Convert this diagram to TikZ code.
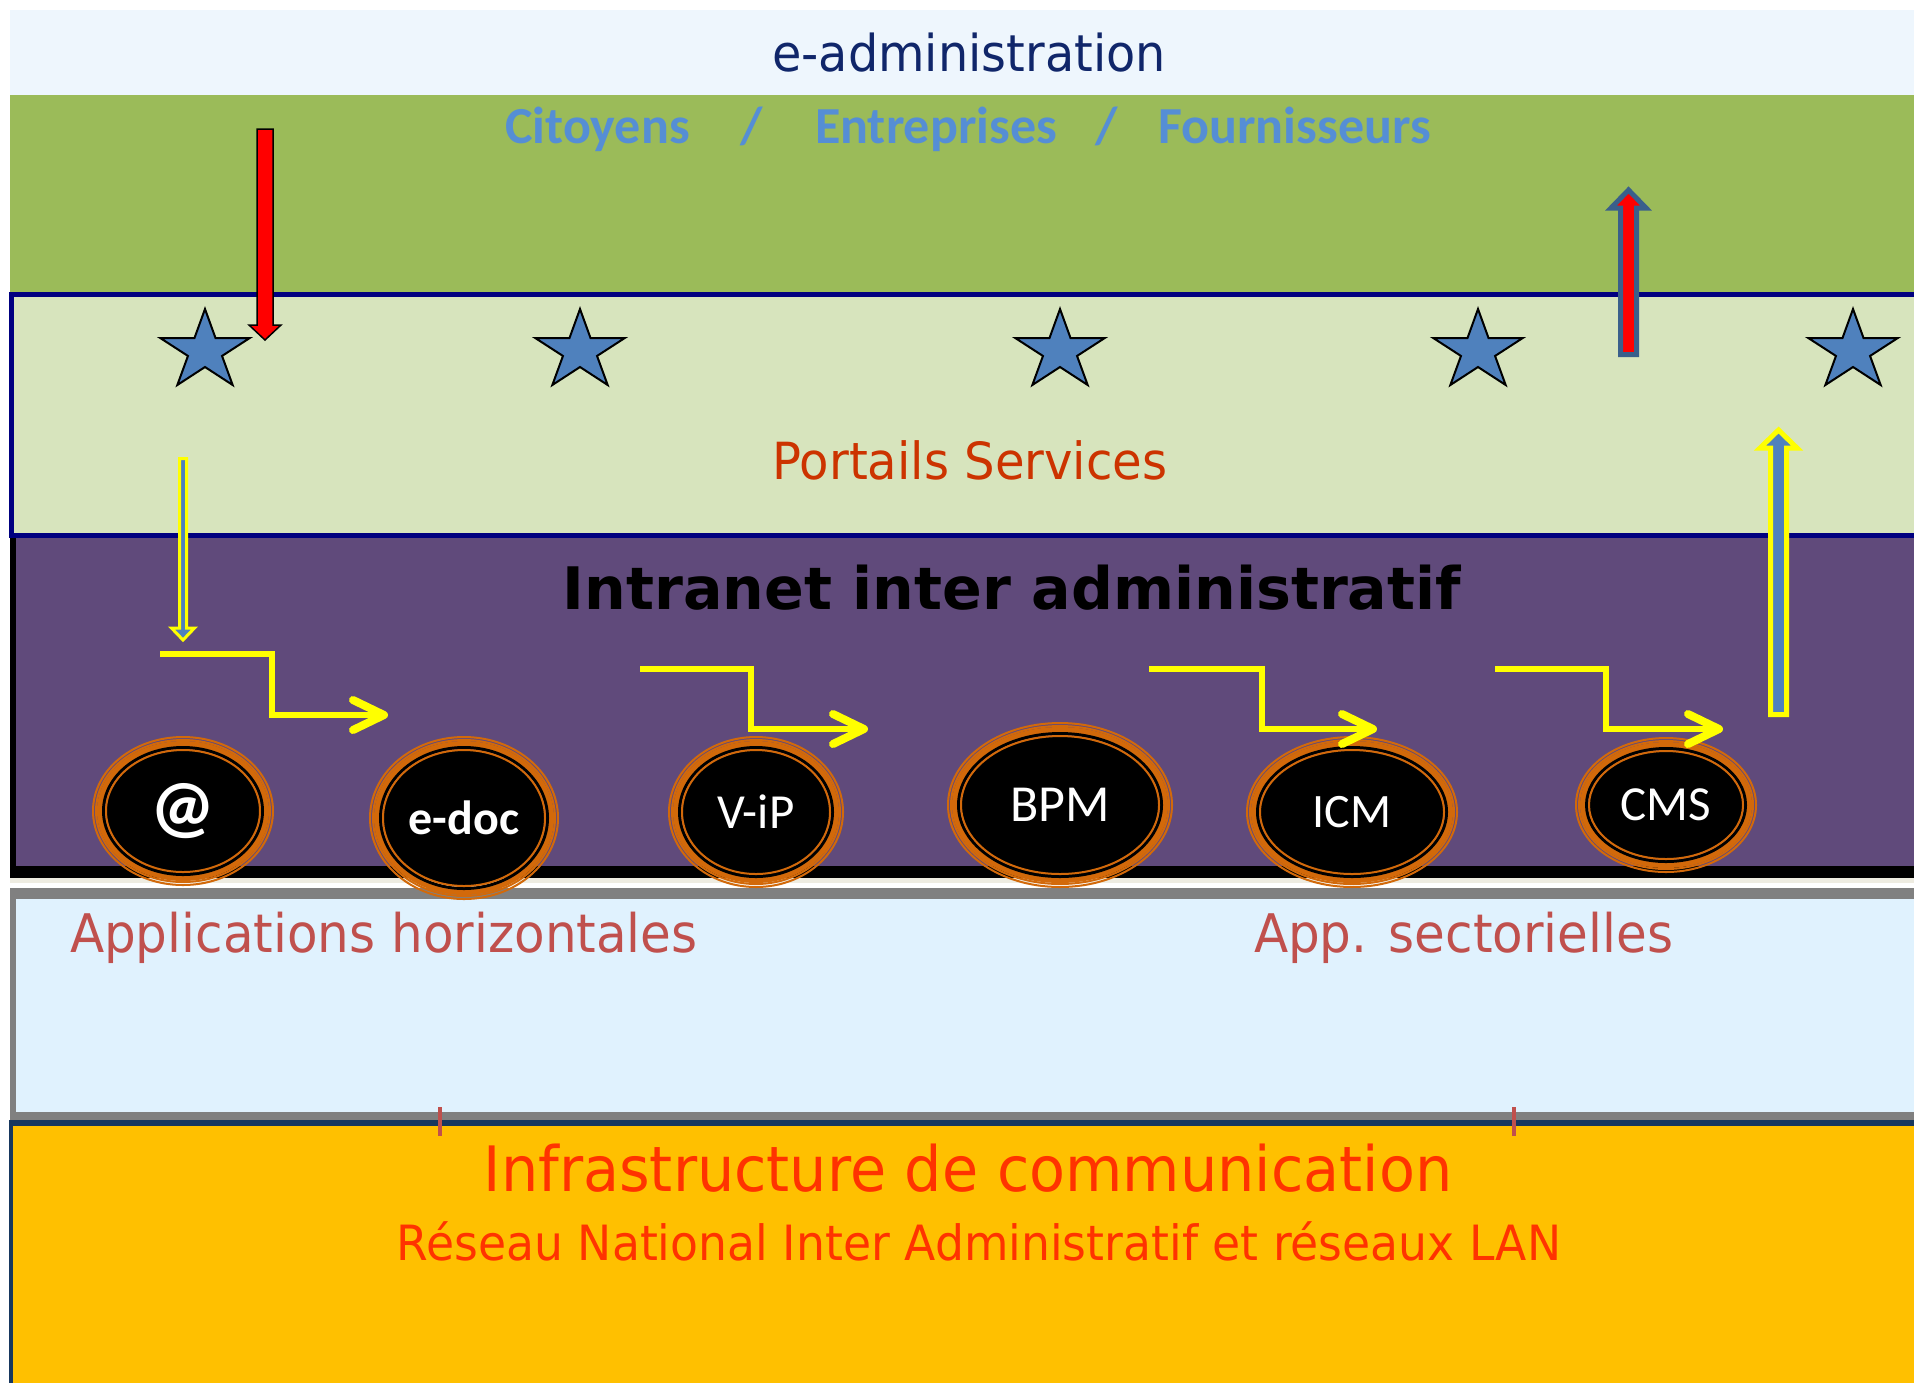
\documentclass[tikz,border=0pt]{standalone}
\usepackage{fontspec}
\newfontfamily\tahf[FakeStretch=0.94]{DejaVu Sans}
\newfontfamily\dvsf{DejaVu Sans}
\newfontfamily\carlf{Carlito}
\usetikzlibrary{shapes.geometric}
\definecolor{topband}{HTML}{EEF6FD}
\definecolor{greenband}{HTML}{9BBB59}
\definecolor{lgreen}{HTML}{D7E4BD}
\definecolor{navyline}{HTML}{000080}
\definecolor{purpleband}{HTML}{604A7B}
\definecolor{cream}{HTML}{EEECE1}
\definecolor{grayb}{HTML}{808080}
\definecolor{lblue}{HTML}{E0F2FE}
\definecolor{navyb}{HTML}{17375E}
\definecolor{orangeb}{HTML}{FFC000}
\definecolor{adminblue}{HTML}{10266A}
\definecolor{citblue}{HTML}{558ED5}
\definecolor{portred}{HTML}{CC3300}
\definecolor{apptxt}{HTML}{C0504D}
\definecolor{infratxt}{HTML}{FF3300}
\definecolor{ringorange}{HTML}{D2690A}
\definecolor{starblue}{HTML}{4F81BD}
\definecolor{arrowedge}{HTML}{3A5F8B}
\definecolor{yel}{HTML}{FFFF00}

\newcommand\appnode[6]{%
  \draw[ringorange, line width=1pt] (#2,#3) ellipse [x radius=#4, y radius=#5];
  \draw[ringorange, line width=1pt] (#2,#3) ellipse [x radius=#4-3, y radius=#5-3];
  \draw[ringorange, line width=3pt] (#2,#3) ellipse [x radius=#4-7, y radius=#5-7];
  \draw[black, line width=1.5pt] (#2,#3) ellipse [x radius=#4-10.5, y radius=#5-10.5];
  \node[appell, minimum width={(#4-13)*1pt}, minimum height={(#5-13)*1pt}] (#1) at (#2,#3) {#6};
}
\newcommand\bluestar[3]{%
  \coordinate (#1) at (#2,#3);
  \draw[starsty] (#2,#3-42) \foreach \k in {0,...,4}{ -- ({#2+1.12*16*cos(126+72*\k)},{#3-16*sin(126+72*\k)}) -- ({#2+1.12*42*cos(162+72*\k)},{#3-42*sin(162+72*\k)}) } -- cycle;
}
\newcommand\stepyel[5]{% x0 y0 xmid y1 tip
  \draw[yelstep] (#1,#2) -- (#3,#2) -- (#3,#4) -- (#5-4,#4);
  \draw[chev] (#5-31,#4-15) -- (#5,#4) -- (#5-31,#4+15);
}

\begin{document}
\begin{tikzpicture}[x=0.5pt,y=-0.5pt,
  txt/.style={inner sep=0pt, outer sep=0pt},
  appell/.style={ellipse, fill=black, draw=ringorange, line width=1pt, inner sep=0pt, text=white},
  starsty/.style={fill=starblue, draw=black, line width=1pt, line join=miter},
  yelstep/.style={draw=yel, line width=3.25pt, line join=miter},
  chev/.style={draw=yel, line width=4pt, line cap=round, line join=round}]
\useasboundingbox (0,0) rectangle (1914,1383);
\fill[white] (0,0) rectangle (1914,1383);

% bands
\fill[topband] (10,10) rectangle (1914,95);
\fill[greenband] (10,95) rectangle (1914,294);
\fill[black] (10,533) rectangle (1914,878);
\fill[purpleband] (16,537) rectangle (1914,866);
\fill[lgreen] (12,294.5) rectangle (1914,535);
\draw[navyline, line width=2.5pt] (1920,294.5) -- (11.5,294.5) -- (11.5,535) -- (1920,535);
\fill[cream] (10,878) rectangle (1914,883);
\fill[grayb] (10,888) rectangle (1914,1120);
\fill[lblue] (16,899) rectangle (1914,1112);
\fill[navyb] (9,1120) rectangle (1914,1383);
\fill[orangeb] (13,1126) rectangle (1914,1383);
\draw[apptxt, line width=2pt] (440,1107) -- (440,1136);
\draw[apptxt, line width=2pt] (1514,1107) -- (1514,1136);

% stars
\bluestar{s1}{205}{351}
\bluestar{s2}{580}{351}
\bluestar{s3}{1060}{351}
\bluestar{s4}{1478}{351}
\bluestar{s5}{1853}{351}

% application ellipses
\appnode{at}{183}{811}{90}{74}{\carlf\bfseries\fontsize{36}{40}\selectfont @}
\appnode{edoc}{464}{818}{94}{81}{\carlf\bfseries\fontsize{24}{28}\selectfont e-doc}
\appnode{vip}{756}{812}{87}{75}{\carlf\fontsize{24.5}{28}\selectfont V-iP}
\appnode{bpm}{1060}{805}{112}{82}{\carlf\fontsize{26}{30}\selectfont BPM}
\appnode{icm}{1352}{812}{105}{75}{\carlf\fontsize{24}{28}\selectfont ICM}
\appnode{cms}{1666}{805}{90}{67}{\carlf\fontsize{24.5}{28}\selectfont CMS}

% step arrows
\stepyel{160}{654}{272}{715}{384}
\stepyel{640}{669}{751}{729}{864}
\stepyel{1149}{669}{1262}{729}{1373}
\stepyel{1495}{669}{1606}{729}{1719}

% block arrows
\draw[fill=red, draw=black, line width=0.75pt, line join=miter]
  (257,129) -- (273,129) -- (273,325) -- (281,325) -- (265,340) -- (249,325) -- (257,325) -- cycle;
\draw[fill=red, draw=arrowedge, line width=2.5pt, line join=miter]
  (1620.5,354.5) -- (1620.5,208) -- (1611,208) -- (1628.5,190) -- (1646,208) -- (1636.5,208) -- (1636.5,354.5) -- cycle;
\draw[fill=starblue, draw=yel, line width=2.5pt, line join=miter]
  (1770.5,714.5) -- (1770.5,448) -- (1760,448) -- (1778.5,430) -- (1797,448) -- (1786.5,448) -- (1786.5,714.5) -- cycle;
\draw[fill=starblue, draw=yel, line width=1.5pt, line join=miter]
  (179.5,458.5) -- (186.5,458.5) -- (186.5,628) -- (194.5,628) -- (183,640) -- (171.5,628) -- (179.5,628) -- cycle;

% texts
\node[txt, anchor=base, text=adminblue, font={\tahf\fontsize{25.4}{30}\selectfont}] (eadmin) at (969,71) {e-administration};
\node[txt, anchor=base, text=citblue, font={\carlf\bfseries\fontsize{26}{30}\selectfont}] (cit) at (597.5,143) {Citoyens};
\node[txt, anchor=base, text=citblue, font={\carlf\bfseries\fontsize{26}{30}\selectfont}] (sl1) at (751.5,143) {/};
\node[txt, anchor=base, text=citblue, font={\carlf\bfseries\fontsize{26}{30}\selectfont}] (ent) at (936,143) {Entreprises};
\node[txt, anchor=base, text=citblue, font={\carlf\bfseries\fontsize{26}{30}\selectfont}] (sl2) at (1106.5,143) {/};
\node[txt, anchor=base, text=citblue, font={\carlf\bfseries\fontsize{26}{30}\selectfont}] (four) at (1294.5,143) {Fournisseurs};
\node[txt, anchor=base, text=portred, font={\tahf\fontsize{25.6}{30}\selectfont}] (portails) at (970,479) {Portails Services};
\node[txt, anchor=base, text=black, font={\dvsf\bfseries\fontsize{29.3}{34}\selectfont}] (intranet) at (1012,609) {Intranet inter administratif};
\node[txt, anchor=base west, text=apptxt, font={\tahf\fontsize{26.6}{31}\selectfont}] (apph) at (70,952) {Applications horizontales};
\node[txt, anchor=base west, text=apptxt, font={\tahf\fontsize{26.6}{31}\selectfont}] (apps) at (1254,952) {App. sectorielles};
\node[txt, anchor=base, text=infratxt, font={\tahf\fontsize{31.3}{36}\selectfont}] (infra) at (968,1191) {Infrastructure de communication};
\node[txt, anchor=base, text=infratxt, font={\tahf\fontsize{24.3}{28}\selectfont}] (reseau) at (979,1260) {Réseau National Inter Administratif et réseaux LAN};
\end{tikzpicture}
\end{document}
